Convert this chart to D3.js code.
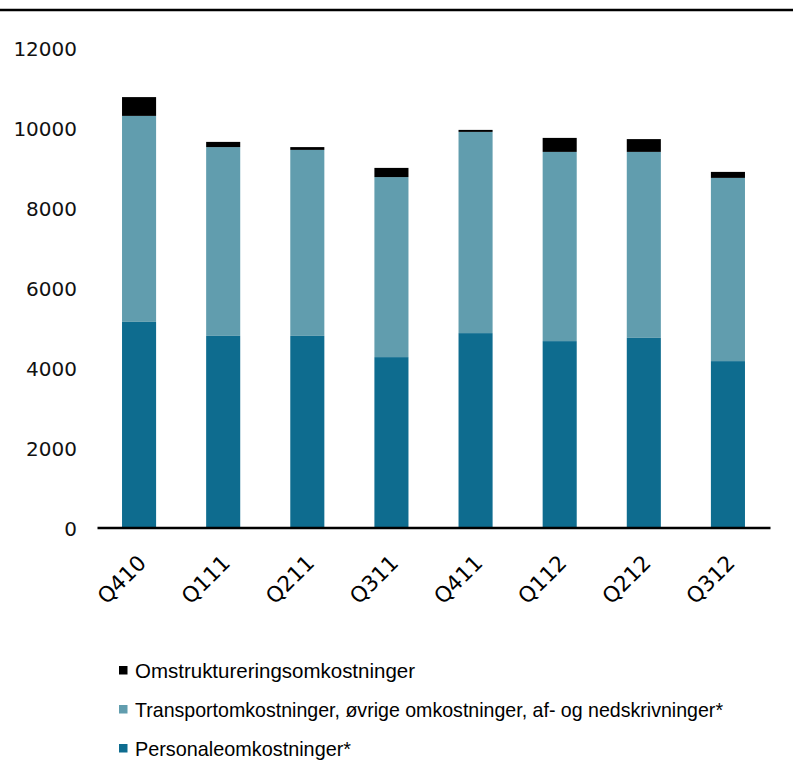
<!DOCTYPE html>
<html><head><meta charset="utf-8">
<script src="https://cdn.jsdelivr.net/npm/d3@7"></script>
<style>html,body{margin:0;padding:0;background:#fff;}</style>
</head><body>
<script>
const categories = ["Q410","Q111","Q211","Q311","Q411","Q112","Q212","Q312"];
const personale = [5140, 4790, 4790, 4260, 4860, 4660, 4740, 4160];
const transport = [5150, 4720, 4650, 4500, 5030, 4730, 4650, 4580];
const omstrukturering = [470, 130, 70, 230, 50, 350, 320, 150];
const seriesNames = ["Personaleomkostninger*", "Transportomkostninger, øvrige omkostninger, af- og nedskrivninger*", "Omstruktureringsomkostninger"];
const yTicks = [0, 2000, 4000, 6000, 8000, 10000, 12000];
const colors = ["#0e6c8f", "#619dae", "#000000"];

const W = 793, H = 760;
const svg = d3.select("body").append("svg").attr("width", W).attr("height", H);

// top border line
svg.append("line").attr("x1",0).attr("x2",W).attr("y1",10).attr("y2",10)
  .attr("stroke","#000").attr("stroke-width",2.5);

const x = d3.scaleBand().domain(categories).range([97, 770]).paddingInner(0.595).paddingOuter(0.2975);
const y = d3.scaleLinear().domain([0, 12000]).range([527.5, 47.5]);

const table = categories.map((c,i)=>({cat:c, p:personale[i], t:transport[i], o:omstrukturering[i]}));
const stack = d3.stack().keys(["p","t","o"])(table);

svg.append("g").selectAll("g").data(stack).join("g")
  .attr("fill",(d,i)=>colors[i])
  .selectAll("rect").data(d=>d).join("rect")
  .attr("x", d=>x(d.data.cat))
  .attr("width", x.bandwidth())
  .attr("y", d=>y(d[1]))
  .attr("height", d=>y(d[0])-y(d[1]));

// y axis labels
const yAxis = d3.axisLeft(y).tickValues(yTicks).tickSize(0).tickPadding(0).tickFormat(d3.format("d"));
const gy = svg.append("g").attr("transform","translate(77,2)").call(yAxis);
gy.select(".domain").remove();
gy.selectAll("text").attr("font-family","DejaVu Sans, Verdana, sans-serif").attr("font-size",20).attr("fill","#111");

// x axis line
const gx = svg.append("g").attr("transform",`translate(0,${y(0)})`)
  .call(d3.axisBottom(x).tickSize(0).tickFormat(""));
gx.select(".domain").attr("stroke","#000").attr("stroke-width",2.5);

// x labels
svg.append("g").selectAll("text").data(categories).join("text")
  .attr("transform", d=>`translate(${x(d)+x.bandwidth()/2+3},559) rotate(-45)`)
  .attr("text-anchor","end").attr("dy","0.35em")
  .attr("font-family","DejaVu Sans, Verdana, sans-serif").attr("font-size",21.5).attr("fill","#000")
  .text(d=>d);

// legend
const legendOrder = [2,1,0];
const lg = svg.append("g");
legendOrder.forEach((si, k)=>{
  const yy = 670 + k*39;
  lg.append("rect").attr("x",119).attr("y",yy-4).attr("width",8.5).attr("height",8.5).attr("fill",colors[si]);
  lg.append("text").attr("x",135).attr("y",yy+8)
    .attr("font-family","Liberation Sans, Arial, sans-serif").attr("font-size",21).attr("fill","#000")
    .text(seriesNames[si]);
});
const lens = [280, 588, 216];
lg.selectAll("text").each(function(d,i){ d3.select(this).attr("textLength", lens[i]).attr("lengthAdjust","spacingAndGlyphs"); });
</script>
</body></html>
